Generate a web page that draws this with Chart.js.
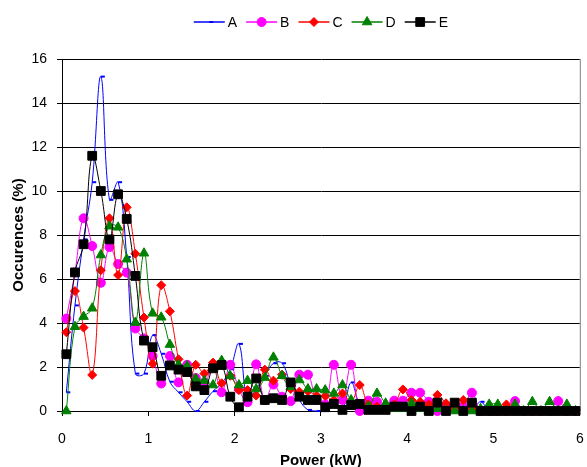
<!DOCTYPE html>
<html>
<head>
<meta charset="utf-8">
<script src="https://cdn.jsdelivr.net/npm/chart.js@4.4.1/dist/chart.umd.min.js"></script>
<style>
  html, body { margin: 0; padding: 0; background: #fff; }
</style>
</head>
<body>
<canvas id="chartCanvas" width="587" height="467"></canvas>
<script>
// --- data: bin centres (kW) and occurrences (%) ---
const power = [
  0.05, 0.15, 0.25, 0.35, 0.45, 0.55, 0.65, 0.75, 0.85, 0.95,
  1.05, 1.15, 1.25, 1.35, 1.45, 1.55, 1.65, 1.75, 1.85, 1.95,
  2.05, 2.15, 2.25, 2.35, 2.45, 2.55, 2.65, 2.75, 2.85, 2.95,
  3.05, 3.15, 3.25, 3.35, 3.45, 3.55, 3.65, 3.75, 3.85, 3.95,
  4.05, 4.15, 4.25, 4.35, 4.45, 4.55, 4.65, 4.75, 4.85, 4.95,
  5.05, 5.15, 5.25, 5.35, 5.45, 5.55, 5.65, 5.75, 5.85, 5.95
];

const seriesA = [
  0.85, 4.8, 7.8, 10.4, 15.2, 9.6, 10.4, 7.0, 1.7, 1.7,
  3.45, 2.6, 1.33, 0.85, 0.42, 0.0, 0.42, 0.9, 1.26, 1.9,
  3.05, 0.5, 1.0, 1.6, 2.17, 2.17, 1.2, 0.5, 0.05, 0.0,
  0.0, 0.27, 0.1, 1.3, 0.3, 0.0, 0.0, 0.05, 0.0, 0.0,
  0.0, 0.0, 0.0, 0.0, 0.0, 0.0, 0.0, 0.0, 0.42, 0.0,
  0.0, 0.0, 0.0, 0.0, 0.1, 0.0, 0.0, 0.0, 0.0, 0.1
];

const seriesB = [
  4.2, 6.3, 8.76, 7.5, 5.83, 7.45, 6.68, 6.29, 3.75, 3.3,
  2.5, 1.25, 2.5, 1.3, 2.1, 1.5, 1.3, 2.0, 0.85, 2.1,
  1.0, 0.4, 2.12, 0.5, 1.2, 0.65, 0.45, 1.65, 1.65, 0.5,
  0.3, 2.1, 0.5, 2.1, 0.0, 0.47, 0.42, 0.2, 0.47, 0.47,
  0.83, 0.83, 0.42, 0.0, 0.2, 0.1, 0.2, 0.83, 0.0, 0.0,
  0.0, 0.0, 0.45, 0.0, 0.0, 0.0, 0.0, 0.45, 0.0, 0.0
];

const seriesC = [
  3.58, 5.45, 3.79, 1.64, 6.4, 8.76, 6.18, 9.26, 7.15, 4.25,
  2.15, 5.72, 4.53, 2.35, 0.7, 2.1, 1.7, 2.2, 1.26, 1.6,
  0.95, 0.95, 0.7, 1.88, 1.38, 1.65, 1.0, 0.88, 0.9, 0.7,
  0.68, 0.5, 0.8, 0.4, 1.18, 0.3, 0.2, 0.1, 0.3, 0.98,
  0.5, 0.42, 0.3, 0.73, 0.35, 0.1, 0.5, 0.1, 0.0, 0.0,
  0.0, 0.3, 0.0, 0.0, 0.0, 0.0, 0.0, 0.0, 0.0, 0.0
];

const seriesD = [
  0.0, 3.83, 4.29, 4.67, 7.09, 8.4, 8.35, 6.9, 4.02, 7.17,
  4.44, 4.26, 3.02, 2.1, 2.05, 1.47, 1.38, 1.18, 2.29, 1.59,
  1.18, 1.38, 1.0, 1.52, 2.44, 1.6, 1.1, 1.41, 1.0, 1.0,
  0.95, 0.8, 1.18, 0.5, 0.3, 0.2, 0.8, 0.35, 0.1, 0.1,
  0.35, 0.1, 0.0, 0.1, 0.0, 0.0, 0.0, 0.0, 0.1, 0.3,
  0.3, 0.0, 0.3, 0.0, 0.42, 0.0, 0.42, 0.0, 0.3, 0.0
];

const seriesE = [
  2.58, 6.3, 7.58, 11.6, 10.0, 7.8, 9.85, 8.73, 6.14, 3.2,
  2.9, 1.6, 2.07, 1.88, 1.77, 1.12, 0.95, 1.94, 2.09, 0.65,
  0.17, 0.65, 1.48, 0.5, 0.58, 0.5, 1.3, 0.65, 0.5, 0.5,
  0.17, 0.32, 0.05, 0.27, 0.32, 0.05, 0.05, 0.05, 0.2, 0.2,
  0.0, 0.2, 0.0, 0.38, 0.0, 0.38, 0.0, 0.38, 0.0, 0.0,
  0.0, 0.0, 0.0, 0.0, 0.0, 0.0, 0.0, 0.0, 0.0, 0.0
];

const seriesNames = ["A", "B", "C", "D", "E"];
const xTicks = [0, 1, 2, 3, 4, 5, 6];
const yTicks = [0, 2, 4, 6, 8, 10, 12, 14, 16];

const FONT = '"Liberation Sans", Arial, sans-serif';

// --- helpers ---
const toPoints = values => values.map((v, i) => ({ x: power[i], y: v }));

function makeSet(label, values, color, style, radius, order) {
  return {
    label,
    data: toPoints(values),
    borderColor: color,
    backgroundColor: color,
    borderWidth: 1,
    tension: 0.4,
    pointStyle: style,
    pointRadius: radius,
    pointBackgroundColor: color,
    pointBorderColor: color,
    pointBorderWidth: style === "dash" ? 2 : 1,
    clip: false,
    order
  };
}

// legend with line + marker, centred over the plot area (Excel style)
const lineLegend = {
  id: "lineLegend",
  afterDraw(chart) {
    const { ctx, chartArea } = chart;
    const lineLen = 31, gapText = 3, gapItem = 9, y = 22;
    ctx.save();
    ctx.font = "14px " + FONT;
    const items = chart.data.datasets.map(ds => ({
      ds, w: lineLen + gapText + ctx.measureText(ds.label).width
    }));
    const total = items.reduce((s, it) => s + it.w, 0) + gapItem * (items.length - 1);
    let x = (chartArea.left + chartArea.right) / 2 - total / 2;
    items.forEach(({ ds, w }) => {
      ctx.strokeStyle = ds.borderColor;
      ctx.lineWidth = 1.5;
      ctx.beginPath();
      ctx.moveTo(x, y);
      ctx.lineTo(x + lineLen, y);
      ctx.stroke();
      ctx.fillStyle = ds.pointBackgroundColor;
      ctx.strokeStyle = ds.pointBorderColor;
      ctx.lineWidth = ds.pointBorderWidth;
      Chart.helpers.drawPoint(ctx, {
        pointStyle: ds.pointStyle, radius: ds.pointRadius, borderWidth: ds.pointBorderWidth
      }, x + lineLen / 2, y);
      ctx.fillStyle = "#000";
      ctx.textBaseline = "middle";
      ctx.textAlign = "left";
      ctx.fillText(ds.label, x + lineLen + gapText, y + 1);
      x += w + gapItem;
    });
    ctx.restore();
  }
};

// grey right edge of the plot area
const rightEdge = {
  id: "rightEdge",
  beforeDatasetsDraw(chart) {
    const { ctx, chartArea } = chart;
    ctx.save();
    ctx.strokeStyle = "#808080";
    ctx.lineWidth = 1;
    ctx.beginPath();
    ctx.moveTo(chartArea.right + 0.5, chartArea.top);
    ctx.lineTo(chartArea.right + 0.5, chartArea.bottom);
    ctx.stroke();
    ctx.restore();
  }
};

const canvas = document.getElementById("chartCanvas");

new Chart(canvas, {
  type: "line",
  data: {
    datasets: [
      makeSet(seriesNames[0], seriesA, "#0000FF", "dash", 4, 5),
      makeSet(seriesNames[1], seriesB, "#FF00FF", "circle", 4.5, 4),
      makeSet(seriesNames[2], seriesC, "#FF0000", "rectRot", 4.5, 3),
      makeSet(seriesNames[3], seriesD, "#008000", "triangle", 5.5, 2),
      makeSet(seriesNames[4], seriesE, "#000000", "rect", 6.2, 1)
    ]
  },
  options: {
    responsive: false,
    animation: false,
    layout: { padding: { top: 59, right: 5, left: 0, bottom: 0 } },
    plugins: {
      legend: { display: false },
      tooltip: { enabled: false }
    },
    scales: {
      x: {
        type: "linear",
        min: 0,
        max: 6,
        afterBuildTicks: s => { s.ticks = xTicks.map(v => ({ value: v })); },
        afterFit: s => {
          s.height = 56;
          // tick padding would otherwise push the plot edges inwards
          s.paddingLeft = 0;
          s.paddingRight = 0;
        },
        ticks: { color: "#000", font: { family: FONT, size: 14 }, padding: 15, maxRotation: 0 },
        grid: { drawOnChartArea: false, drawTicks: true, tickLength: 5, color: "#000" },
        border: { color: "#000", width: 1 },
        title: {
          display: true, text: "Power (kW)", color: "#000",
          font: { family: FONT, size: 15, weight: "bold" }, padding: { top: 0, bottom: -3 }
        }
      },
      y: {
        min: 0,
        max: 16,
        afterBuildTicks: s => { s.ticks = yTicks.map(v => ({ value: v })); },
        afterFit: s => { s.width = 62; },
        ticks: { color: "#000", font: { family: FONT, size: 14 }, padding: 10 },
        grid: { color: "#000", tickLength: 5 },
        border: { color: "#000", width: 1 },
        title: {
          display: true, text: "Occurences (%)", color: "#000",
          font: { family: FONT, size: 15, weight: "bold" }, padding: { top: 10, bottom: 0 }
        }
      }
    }
  },
  plugins: [rightEdge, lineLegend]
});
</script>
</body>
</html>
